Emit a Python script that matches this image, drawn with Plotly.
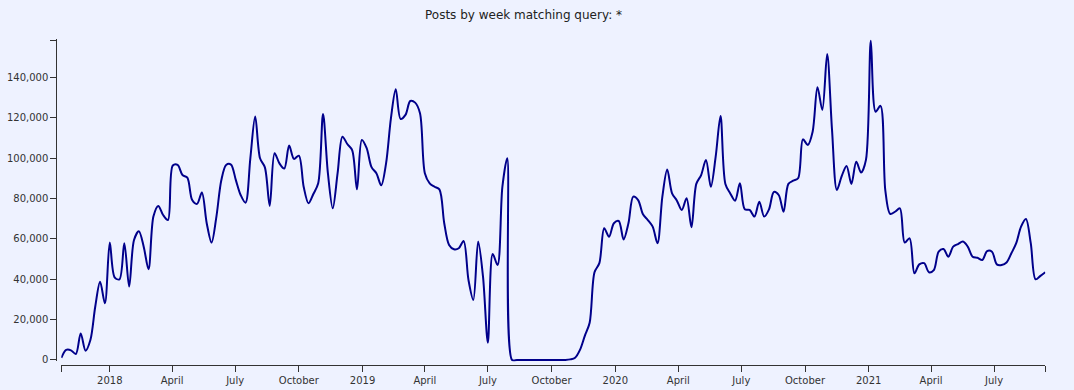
import pandas as pd
import plotly.graph_objects as go

# Weekly post counts (weeks start on Mondays)
start_week = "2017-10-23"
posts_2017 = [1000, 5000, 4800, 3000, 13200, 4600, 9900, 26400, 38800, 28100]
posts_2018 = [58200, 41000, 40000, 57900, 36400, 59500, 63800, 56200, 45000, 71100,
              76400, 71900, 69400, 96400, 96700, 91700, 90400, 79300, 77400, 83000,
              67800, 58200, 71100, 89000, 96700, 96900, 89300, 81800, 78000, 100000,
              120700, 100000, 95500, 76400, 102500, 97500, 94900, 106300, 99700, 101300,
              85900, 77700, 82300, 87600, 122000, 92600, 75200, 92600, 110700, 107100,
              104100, 84600, 109100]
posts_2019 = [105000, 95600, 92600, 86600, 97500, 119800, 134200, 119500, 121500, 128400,
              127600, 122300, 92600, 87600, 85900, 84600, 67800, 57000, 54900, 55400,
              59000, 39700, 29800, 58700, 41300, 8600, 52600, 47100, 85900, 100000,
              0, 0, 0, 0, 0, 0, 0, 0, 0, 0,
              0, 0, 300, 1100, 5000, 12000, 18500, 43500, 48000, 65300,
              61100, 67800]
posts_2020 = [68900, 59800, 67800, 81000, 79300, 72200, 69400, 66100, 57900, 81000,
              94500, 82600, 79000, 74400, 80200, 65800, 87300, 91700, 99200, 85900,
              100800, 121000, 87300, 82600, 79000, 87600, 74700, 74400, 71100, 78500,
              71100, 74700, 83300, 81800, 73500, 87300, 88900, 90100, 109400, 106600,
              113200, 135200, 124000, 151700, 114100, 84300, 91200, 96200, 87300, 98300,
              92900, 99200]
posts_2021 = [158300, 123100, 126000, 84000, 72400, 73500, 75200, 58200, 60300, 43000,
              47400, 48000, 43500, 44600, 53700, 55000, 51200, 56200, 57500, 58700,
              56200, 51200, 50700, 49600, 54000, 53700, 47400, 47100, 48300, 52900,
              57900, 66100, 69900, 57900, 40000, 41700, 43500]

values = posts_2017 + posts_2018 + posts_2019 + posts_2020 + posts_2021
weeks = pd.date_range(start_week, periods=len(values), freq="7D")

x_tick_dates = ["2018-01-01", "2018-04-01", "2018-07-01", "2018-10-01",
                "2019-01-01", "2019-04-01", "2019-07-01", "2019-10-01",
                "2020-01-01", "2020-04-01", "2020-07-01", "2020-10-01",
                "2021-01-01", "2021-04-01", "2021-07-01"]
x_tick_labels = ["2018", "April", "July", "October",
                 "2019", "April", "July", "October",
                 "2020", "April", "July", "October",
                 "2021", "April", "July"]
y_tick_values = [0, 20000, 40000, 60000, 80000, 100000, 120000, 140000]

ymax = max(values)
first, last = weeks[0], weeks[-1]

W, H = 1074, 390
x_left, x_right = 61.3, 1045.3
y_zero_px, y_top_px = 360.0, 40.7
pad = 700
px_per_unit = (y_zero_px - y_top_px) / ymax
dom_bottom = 1 - (y_zero_px + pad * px_per_unit) / H
dom_top = 1 - (y_top_px - pad * px_per_unit) / H

axis_color = "#333333"
font_fam = "DejaVu Sans, Verdana, sans-serif"

fig = go.Figure()
fig.add_trace(go.Scatter(
    x=weeks, y=values, mode="lines",
    line=dict(color="#00008b", width=2, shape="spline", smoothing=0.9),
    hoverinfo="x+y", showlegend=False,
))

fig.update_layout(
    width=W, height=H,
    margin=dict(l=0, r=0, t=0, b=0),
    paper_bgcolor="#eef2ff", plot_bgcolor="#eef2ff",
    font=dict(family=font_fam, size=10, color=axis_color),
    xaxis=dict(
        domain=[x_left / W, x_right / W],
        range=[first, last],
        type="date",
        anchor="free", position=1 - 365.3 / H,
        tickvals=[first] + x_tick_dates + [last],
        ticktext=[""] + x_tick_labels + [""],
        ticks="outside", ticklen=6, tickwidth=1, tickcolor=axis_color,
        showline=True, linecolor=axis_color, linewidth=1,
        showgrid=False, zeroline=False, automargin=False,
        tickfont=dict(size=10, color=axis_color, family=font_fam),
    ),
    yaxis=dict(
        domain=[dom_bottom, dom_top],
        range=[-pad, ymax + pad],
        anchor="free", position=56.3 / W,
        tickvals=y_tick_values + [ymax],
        ticktext=[f"{v:,}" for v in y_tick_values] + [""],
        ticks="outside", ticklen=6, tickwidth=1, tickcolor=axis_color,
        showline=True, linecolor=axis_color, linewidth=1,
        showgrid=False, zeroline=False, automargin=False,
        tickfont=dict(size=10, color=axis_color, family=font_fam),
    ),
    annotations=[dict(
        text="Posts by week matching query: *",
        x=523.5 / W, y=1 - 15 / H, xref="paper", yref="paper",
        xanchor="center", yanchor="middle", showarrow=False,
        font=dict(size=12, color="#222222", family=font_fam),
    )],
)

fig.write_html(
    "out.html",
    config={"displayModeBar": False},
    post_script="document.body.style.margin='0';document.body.style.background='#eef2ff';",
)
